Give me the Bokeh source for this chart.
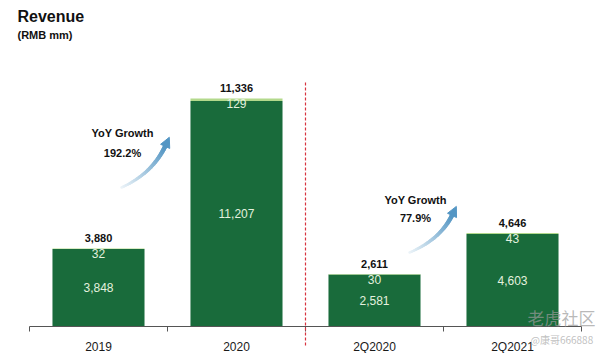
from bokeh.plotting import figure
from bokeh.models import (Range1d, FixedTicker, Label, Arrow, NormalHead,
                          ColumnDataSource, CustomJSTickFormatter)
from bokeh.core.properties import value
from bokeh.embed import file_html
from bokeh.resources import INLINE

# ---------------- data ----------------
categories = ["2019", "2020", "2Q2020", "2Q2021"]
base_values = [3848, 11207, 2581, 4603]
extra_values = [32, 129, 30, 43]
total_values = [3880, 11336, 2611, 4646]
growth_labels = ["192.2%", "77.9%"]

FONT = "Liberation Sans"
DARK = "#196b3b"
LIGHT = "#b3d98c"
INNER_TXT = "#e4f1df"

xs = [i + 0.5 for i in range(len(categories))]
src = ColumnDataSource(dict(
    x=xs,
    base=base_values,
    total=total_values,
    base_mid=[b / 2 for b in base_values],
    base_lbl=[f"{v:,}" for v in base_values],
    extra_lbl=[f"{v:,}" for v in extra_values],
    total_lbl=[f"{v:,}" for v in total_values],
))

p = figure(width=600, height=353,
           x_range=Range1d(-0.2101, 4.1377), y_range=Range1d(-1342, 16208),
           output_backend="svg", toolbar_location=None, y_axis_location=None,
           min_border_left=0, min_border_right=0, min_border_top=0, min_border_bottom=0)
p.outline_line_color = None
p.xgrid.visible = False
p.ygrid.visible = False
p.background_fill_color = "white"
p.border_fill_color = "white"

ax = p.xaxis[0]
ax.fixed_location = 0
ax.bounds = (0, len(categories))
ax.ticker = FixedTicker(ticks=xs, minor_ticks=list(range(len(categories) + 1)))
ax.formatter = CustomJSTickFormatter(args=dict(labels=categories),
                                     code="return labels[Math.floor(tick)] || '';")
ax.major_tick_line_color = None
ax.major_tick_out = 0
ax.major_tick_in = 0
ax.minor_tick_out = 5
ax.minor_tick_in = 0
ax.minor_tick_line_color = "#555555"
ax.axis_line_color = "#555555"
ax.major_label_standoff = 8
ax.major_label_text_font = FONT
ax.major_label_text_font_size = "12px"
ax.major_label_text_color = "#1a1a1a"

# bars
W = 0.667
p.vbar(x="x", bottom=0, top="base", width=W, source=src, fill_color=DARK, line_color=None)
p.vbar(x="x", bottom="base", top="total", width=W, source=src, fill_color=LIGHT, line_color=None)

# value labels
p.text(x="x", y="total", text="total_lbl", source=src, text_align="center",
       text_baseline="bottom", y_offset=-6, text_font=value(FONT),
       text_font_style="bold", text_font_size="11px", text_color="#111111")
p.text(x="x", y="total", text="extra_lbl", source=src, text_align="center",
       text_baseline="top", y_offset=1, text_font=value(FONT),
       text_font_size="12px", text_color=INNER_TXT)
p.text(x="x", y="base_mid", text="base_lbl", source=src, text_align="center",
       text_baseline="middle", text_font=value(FONT),
       text_font_size="12px", text_color=INNER_TXT)

# dashed separator
p.add_layout(Arrow(x_start=2, y_start=-945, x_end=2, y_end=12231, end=None,
                   line_color="#d8323f", line_dash="3 2", line_width=1.2, line_alpha=1.0))

# titles
p.add_layout(Label(x=-0.087, y=15413, text="Revenue", text_font=FONT, text_font_style="bold",
                   text_font_size="16px", text_baseline="middle", text_color="#111111"))
p.add_layout(Label(x=-0.087, y=14468, text="(RMB mm)", text_font=FONT, text_font_style="bold",
                   text_font_size="11px", text_baseline="middle", text_color="#111111"))

# growth annotations
growth_pos = [(0.674, 9596, 8651), (2.797, 6314, 5370)]
for (gx, gy1, gy2), glbl in zip(growth_pos, growth_labels):
    p.add_layout(Label(x=gx, y=gy1, text="YoY Growth", text_font=FONT, text_font_style="bold",
                       text_font_size="11px", text_align="center", text_baseline="middle",
                       text_color="#111111"))
    p.add_layout(Label(x=gx, y=gy2, text=glbl, text_font=FONT, text_font_style="bold",
                       text_font_size="11px", text_align="center", text_baseline="middle",
                       text_color="#111111"))

# gradient curved arrows
arrows = [
    ((0.667, 6911), (0.891, 7607), (0.986, 9000), (1.013, 9408)),
    ((2.754, 3679), (2.978, 4326), (3.065, 5569), (3.093, 5971)),
]
c0 = (238, 245, 249)
c1 = (84, 150, 196)
N = 28
for P0, C, P2, TIP in arrows:
    xsl, ysl, cols, wids = [], [], [], []
    for i in range(N):
        t0, t1 = i / N, (i + 1) / N
        def bz(t):
            return ((1 - t) ** 2 * P0[0] + 2 * (1 - t) * t * C[0] + t ** 2 * P2[0],
                    (1 - t) ** 2 * P0[1] + 2 * (1 - t) * t * C[1] + t ** 2 * P2[1])
        a, b = bz(t0), bz(t1)
        xsl.append([a[0], b[0]])
        ysl.append([a[1], b[1]])
        tm = (t0 + t1) / 2
        col = tuple(int(c0[k] + (c1[k] - c0[k]) * tm) for k in range(3))
        cols.append("#%02x%02x%02x" % col)
        wids.append(2.5 + 2.0 * tm)
    p.multi_line(xs=xsl, ys=ysl, line_color=cols, line_width=wids, line_cap="round")
    p.add_layout(Arrow(x_start=P2[0], y_start=P2[1], x_end=TIP[0], y_end=TIP[1],
                       line_alpha=0,
                       end=NormalHead(size=10, fill_color="#5496c4", line_color="#5496c4")))

# watermark
p.add_layout(Label(x=3.609, y=447, text="老虎社区", text_font="Noto Sans CJK SC",
                   text_font_size="17px", text_baseline="middle", text_color="#9a9a9a",
                   text_alpha=0.7))
p.add_layout(Label(x=3.63, y=-647, text="@康哥666888", text_font="Noto Sans CJK SC",
                   text_font_size="10px", text_baseline="middle", text_color="#b0b0b0",
                   text_alpha=0.8))

open("out.html", "w").write(file_html(p, INLINE))
